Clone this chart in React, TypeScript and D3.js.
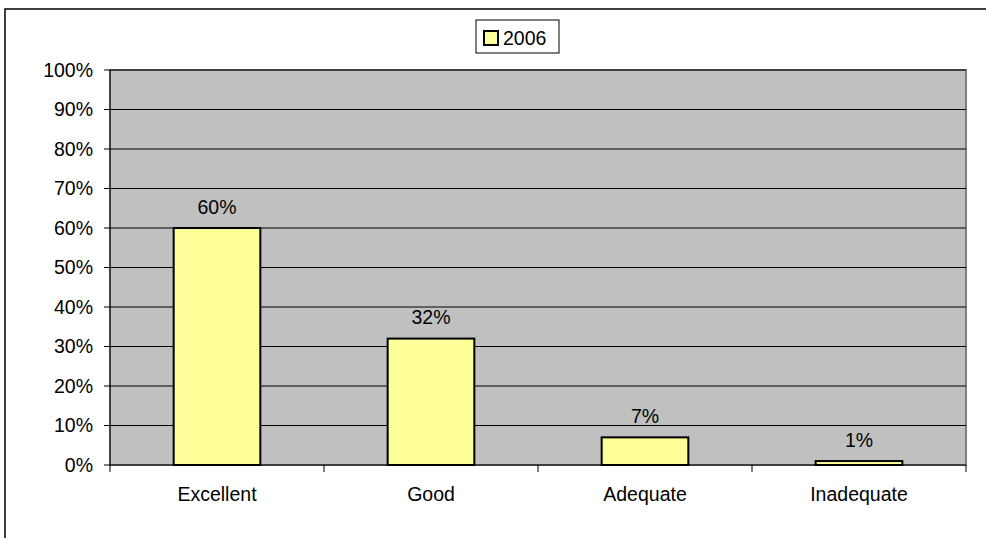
import React from "react";
import * as d3 from "d3";

const categories = ["Excellent", "Good", "Adequate", "Inadequate"];
const values2006 = [0.6, 0.32, 0.07, 0.01];
const valueLabels = ["60%", "32%", "7%", "1%"];
const yTicks = [0, 0.1, 0.2, 0.3, 0.4, 0.5, 0.6, 0.7, 0.8, 0.9, 1.0];
const seriesName = "2006";

export default function App() {
  const W = 986, H = 538;
  const left = 110, right = 966, top = 70, bottom = 465;
  const x = d3.scaleBand<string>().domain(categories).range([left, right]).paddingInner(0).paddingOuter(0);
  const y = d3.scaleLinear().domain([0, 1]).range([bottom, top]);
  const bw = x.bandwidth() * 0.405;
  const fmt = d3.format(".0%");
  const font = "Arial, 'Liberation Sans', sans-serif";
  const fs = 19.5;
  return (
    <svg width={W} height={H} style={{ position: "absolute", left: 0, top: 0 }} fontFamily={font}>
      <rect x={0} y={0} width={W} height={H} fill="#fff" />
      <rect x={5} y={9} width={W + 20} height={H + 20} fill="none" stroke="#000" strokeWidth={1.5} />
      <rect x={left} y={top} width={right - left} height={bottom - top} fill="#C0C0C0" stroke="#808080" strokeWidth={2} />
      {yTicks.map((t) => (
        <g key={t}>
          {t > 0 && <line x1={left} x2={right} y1={y(t)} y2={y(t)} stroke="#000" strokeWidth={1} />}
          <line x1={left - 6} x2={left} y1={y(t)} y2={y(t)} stroke="#000" strokeWidth={1} />
          <text x={93} y={y(t)} dy="0.35em" textAnchor="end" fontSize={fs} fill="#000">{fmt(t)}</text>
        </g>
      ))}
      <line x1={left} x2={left} y1={top} y2={bottom} stroke="#000" strokeWidth={1} />
      {categories.map((c, i) => {
        const cx = (x(c) as number) + x.bandwidth() / 2;
        return (
          <g key={c}>
            <rect x={cx - bw / 2} y={y(values2006[i])} width={bw} height={bottom - y(values2006[i])} fill="#FFFF99" stroke="#000" strokeWidth={2} />
            <text x={cx} y={y(values2006[i]) - 21} dy="0.35em" textAnchor="middle" fontSize={fs} fill="#000">{valueLabels[i]}</text>
            <text x={cx} y={494} dy="0.35em" textAnchor="middle" fontSize={fs} fill="#000">{c}</text>
          </g>
        );
      })}
      <line x1={left} x2={right} y1={bottom} y2={bottom} stroke="#000" strokeWidth={1} />
      {categories.concat([""]).map((c, i) => {
        const xx = left + i * x.bandwidth();
        return <line key={i} x1={xx} x2={xx} y1={bottom} y2={bottom + 7} stroke="#000" strokeWidth={1} />;
      })}
      <g>
        <rect x={476} y={20} width={83} height={33} fill="#fff" stroke="#000" strokeWidth={1} />
        <rect x={484} y={31} width={14} height={14} fill="#FFFF99" stroke="#000" strokeWidth={2} />
        <text x={503} y={38} dy="0.35em" fontSize={fs} fill="#000">{seriesName}</text>
      </g>
    </svg>
  );
}
